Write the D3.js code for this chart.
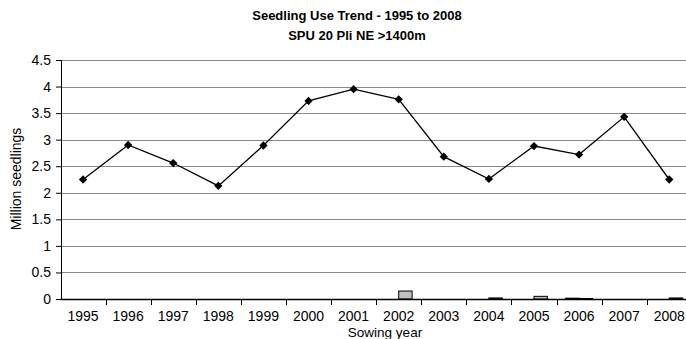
<!DOCTYPE html>
<html lang="en">
<head>
<meta charset="utf-8">
<title>Seedling Use Trend - 1995 to 2008</title>
<script src="https://d3js.org/d3.v7.min.js"></script>
<style>
  body { margin: 0; background: #fff; }
  svg { font-family: "Liberation Sans", Arial, sans-serif; }
  .grid line { stroke: #888; stroke-width: 1px; shape-rendering: crispEdges; }
</style>
</head>
<body>
<svg width="686" height="339"></svg>
<script>
// data
var years = ["1995","1996","1997","1998","1999","2000","2001","2002","2003","2004","2005","2006","2007","2008"];
var seedlingUse = [2.25, 2.90, 2.56, 2.13, 2.89, 3.73, 3.95, 3.76, 2.68, 2.26, 2.88, 2.72, 3.43, 2.25];
var barsLeft  = [0, 0, 0, 0, 0, 0, 0, 0, 0, 0, 0, 0.015, 0, 0];
var barsRight = [0, 0, 0, 0, 0, 0, 0, 0.15, 0, 0.02, 0.05, 0.01, 0, 0.02];
var yTicks = [0, 0.5, 1, 1.5, 2, 2.5, 3, 3.5, 4, 4.5];

var svg = d3.select("svg");
var plotLeft = 60.5, plotRight = 691.8, plotTop = 60, plotBottom = 299;

var x = d3.scaleBand().domain(years).range([plotLeft, plotRight]);
var y = d3.scaleLinear().domain([0, 4.5]).range([plotBottom, plotTop]);
var xs = d3.scaleBand().domain(["a", "b"]).range([0, x.bandwidth()]).paddingInner(0).paddingOuter(0.68);

// gridlines
svg.append("g").attr("class", "grid")
  .selectAll("line").data(yTicks.slice(1)).enter().append("line")
  .attr("x1", plotLeft).attr("x2", plotRight)
  .attr("y1", function(d) { return Math.round(y(d)) + 0.5; })
  .attr("y2", function(d) { return Math.round(y(d)) + 0.5; });

// bars (two small series)
var barData = [];
years.forEach(function(yr, i) {
  if (barsLeft[i] > 0) barData.push({ year: yr, s: "a", v: barsLeft[i] });
  if (barsRight[i] > 0) barData.push({ year: yr, s: "b", v: barsRight[i] });
});
svg.append("g").selectAll("rect").data(barData).enter().append("rect")
  .attr("x", function(d) { return x(d.year) + xs(d.s); })
  .attr("width", xs.bandwidth())
  .attr("y", function(d) { return y(d.v); })
  .attr("height", function(d) { return y(0) - y(d.v); })
  .attr("fill", function(d) { return d.s === "a" ? "#666" : "#c0c0c0"; })
  .attr("stroke", "#000").attr("stroke-width", 1);

// y axis
var yAxis = svg.append("g")
  .attr("transform", "translate(" + (plotLeft + 0.5) + ",0)")
  .call(d3.axisLeft(y).tickValues(yTicks).tickSize(5).tickPadding(5)
    .tickFormat(function(d) { return String(d); }));
yAxis.selectAll("text").attr("font-size", "14px").attr("fill", "#000").attr("font-family", null);
yAxis.select(".domain").attr("stroke", "#000");
yAxis.selectAll(".tick line").attr("stroke", "#000");

// x axis: baseline, ticks between categories
var xg = svg.append("g");
xg.append("line").attr("x1", plotLeft).attr("x2", plotRight)
  .attr("y1", Math.round(plotBottom) + 0.5).attr("y2", Math.round(plotBottom) + 0.5)
  .attr("stroke", "#000").attr("stroke-width", 1.3);
xg.selectAll("line.tk").data(years.slice(1)).enter().append("line")
  .attr("class", "tk")
  .attr("x1", function(d) { return Math.round(x(d)) + 0.5; })
  .attr("x2", function(d) { return Math.round(x(d)) + 0.5; })
  .attr("y1", plotBottom).attr("y2", plotBottom + 6)
  .attr("stroke", "#000");
xg.selectAll("text").data(years).enter().append("text")
  .attr("x", function(d) { return x(d) + x.bandwidth() / 2; })
  .attr("y", 321)
  .attr("text-anchor", "middle")
  .attr("font-size", "14px")
  .text(function(d) { return d; });

// line series with diamond markers
var line = d3.line()
  .x(function(d, i) { return x(years[i]) + x.bandwidth() / 2; })
  .y(function(d) { return y(d); });
svg.append("path").datum(seedlingUse)
  .attr("d", line).attr("fill", "none").attr("stroke", "#000").attr("stroke-width", 1.3);
svg.append("g").selectAll("path").data(seedlingUse).enter().append("path")
  .attr("d", d3.symbol().type(d3.symbolDiamond2).size(44))
  .attr("transform", function(d, i) {
    return "translate(" + (x(years[i]) + x.bandwidth() / 2) + "," + y(d) + ")";
  })
  .attr("fill", "#000");

// titles
svg.append("text").attr("x", 357).attr("y", 20).attr("text-anchor", "middle")
  .attr("font-size", "13px").attr("font-weight", "bold")
  .text("Seedling Use Trend - 1995 to 2008");
svg.append("text").attr("x", 357).attr("y", 40).attr("text-anchor", "middle")
  .attr("font-size", "13px").attr("font-weight", "bold")
  .text("SPU 20 Pli NE >1400m");
svg.append("text").attr("x", 385).attr("y", 337).attr("text-anchor", "middle")
  .attr("font-size", "13.5px").text("Sowing year");
svg.append("text").attr("transform", "translate(21,179) rotate(-90)")
  .attr("text-anchor", "middle").attr("font-size", "14px").text("Million seedlings");
</script>
</body>
</html>
